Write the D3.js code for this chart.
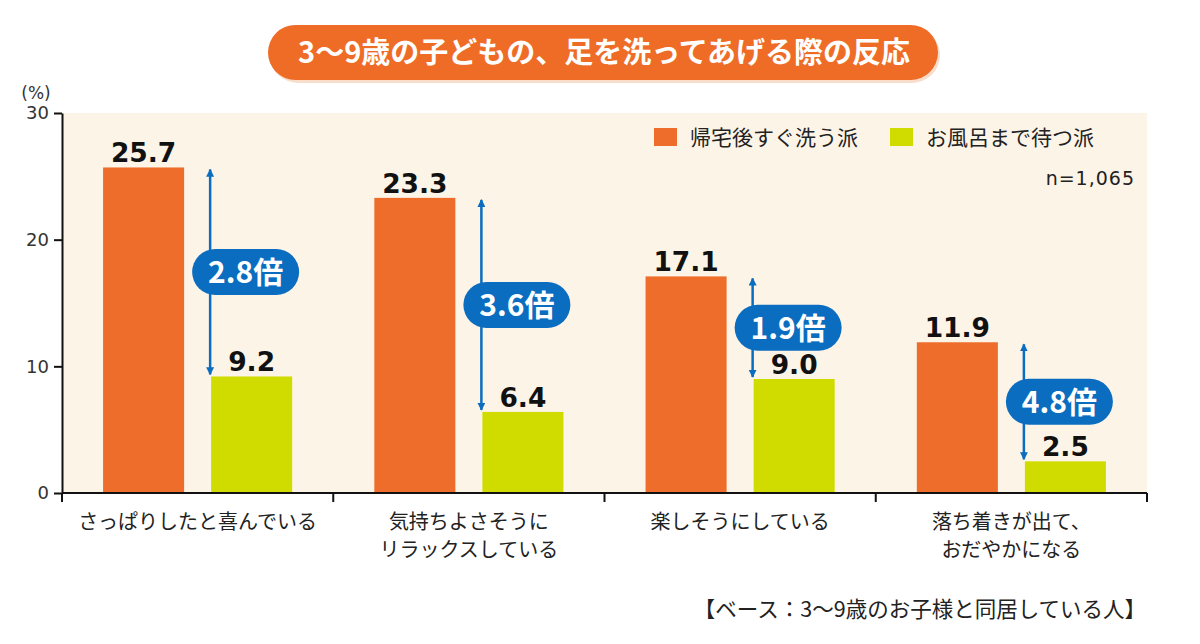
<!DOCTYPE html>
<html>
<head>
<meta charset="utf-8">
<script src="https://cdn.jsdelivr.net/npm/d3@7"></script>
<style>
  html, body { margin: 0; padding: 0; background: #fff; }
  svg { display: block; }
  .jp { font-family: "Noto Sans CJK JP", "Noto Sans", sans-serif; }
  .num { font-family: "DejaVu Sans", Verdana, sans-serif; }
</style>
</head>
<body>
<div id="chart"></div>
<script>
/* === 足を洗う際の反応 grouped bar chart (D3.js v7) === */

var categories = [
    ['さっぱりしたと喜んでいる'],
    ['気持ちよさそうに', 'リラックスしている'],
    ['楽しそうにしている'],
    ['落ち着きが出て、', 'おだやかになる']
];
var seriesNames = ['帰宅後すぐ洗う派', 'お風呂まで待つ派'];
var immediateValues = [25.7, 23.3, 17.1, 11.9];
var waitValues = [9.2, 6.4, 9.0, 2.5];
var ratioLabels = ['2.8倍', '3.6倍', '1.9倍', '4.8倍'];
var yTicks = [0, 10, 20, 30];

var COLORS = ['#ee6d2b', '#d0dc00'];
var BLUE = '#0a6dc0';

var width = 1200, height = 644;
var margin = { left: 62, right: 53, top: 113, bottom: 151 };

var svg = d3.select('#chart')
    .append('svg')
    .attr('width', width)
    .attr('height', height);

// Arrow markers
var defs = svg.append('defs');
defs.append('marker')
    .attr('id', 'arrow')
    .attr('viewBox', '0 -5 10 10')
    .attr('refX', 9)
    .attr('refY', 0)
    .attr('markerWidth', 3.2)
    .attr('markerHeight', 3.2)
    .attr('markerUnits', 'strokeWidth')
    .attr('orient', 'auto-start-reverse')
    .append('path')
    .attr('d', 'M0,-5L10,0L0,5Z')
    .attr('fill', BLUE);

var x0 = d3.scaleBand()
    .domain(d3.range(categories.length))
    .range([margin.left, width - margin.right])
    .padding(0);

var x1 = d3.scaleBand()
    .domain([0, 1])
    .range([0, x0.bandwidth()])
    .paddingInner(0.25)
    .paddingOuter(0.38);

var y = d3.scaleLinear()
    .domain([0, 30])
    .range([height - margin.bottom, margin.top]);

// Plot background
svg.append('rect')
    .attr('x', margin.left)
    .attr('y', y(30))
    .attr('width', width - margin.right - margin.left)
    .attr('height', y(0) - y(30))
    .attr('fill', '#fdf4e8');

// Title pill
var titleG = svg.append('g');
titleG.append('rect')
    .attr('x', 270).attr('y', 27)
    .attr('width', 670).attr('height', 56)
    .attr('rx', 28)
    .attr('fill', '#f5c7a8')
    .attr('opacity', 0.6);
titleG.append('rect')
    .attr('x', 268).attr('y', 25)
    .attr('width', 670).attr('height', 55)
    .attr('rx', 27.5)
    .attr('fill', '#ef6c27');
titleG.append('text')
    .attr('class', 'jp')
    .attr('x', 604).attr('y', 63)
    .attr('text-anchor', 'middle')
    .attr('fill', '#fff')
    .attr('font-size', 29)
    .attr('font-weight', 'bold')
    .text('3～9歳の子どもの、足を洗ってあげる際の反応');

// Bars
var rows = categories.map(function(c, i) {
    return { i: i, values: [immediateValues[i], waitValues[i]] };
});

var groups = svg.append('g').selectAll('g')
    .data(rows)
    .join('g')
    .attr('transform', function(d) { return 'translate(' + x0(d.i) + ',0)'; });

groups.selectAll('rect')
    .data(function(d) { return d.values.map(function(v, s) { return { s: s, v: v }; }); })
    .join('rect')
    .attr('x', function(d) { return x1(d.s); })
    .attr('y', function(d) { return y(d.v); })
    .attr('width', x1.bandwidth())
    .attr('height', function(d) { return y(0) - y(d.v); })
    .attr('fill', function(d) { return COLORS[d.s]; });

groups.selectAll('text.val')
    .data(function(d) { return d.values.map(function(v, s) { return { s: s, v: v }; }); })
    .join('text')
    .attr('class', 'val num')
    .attr('x', function(d) { return x1(d.s) + x1.bandwidth() / 2; })
    .attr('y', function(d) { return y(d.v) - 5; })
    .attr('text-anchor', 'middle')
    .attr('font-size', 26.5)
    .attr('font-weight', 'bold')
    .attr('fill', '#111')
    .text(function(d) { return d.v.toFixed(1); });

// Ratio arrows + badges
groups.each(function(d) {
    var g = d3.select(this);
    var ax = x1(1) - 1;
    var yTop = y(d.values[0]) + 2;
    var yBot = y(d.values[1]) - 2;
    g.append('line')
        .attr('x1', ax).attr('x2', ax)
        .attr('y1', yTop).attr('y2', yBot)
        .attr('stroke', BLUE)
        .attr('stroke-width', 2.5)
        .attr('marker-start', 'url(#arrow)')
        .attr('marker-end', 'url(#arrow)');
    var cy = (yTop + yBot) / 2;
    var bw = 107, bh = 46;
    g.append('rect')
        .attr('x', ax - 18).attr('y', cy - bh / 2)
        .attr('width', bw).attr('height', bh)
        .attr('rx', bh / 2)
        .attr('fill', BLUE);
    g.append('text')
        .attr('class', 'jp')
        .attr('x', ax - 18 + bw / 2).attr('y', cy + 11)
        .attr('text-anchor', 'middle')
        .attr('fill', '#fff')
        .attr('font-size', 30)
        .attr('font-weight', 'bold')
        .text(ratioLabels[d.i]);
});

// Y axis
var yAxis = svg.append('g')
    .attr('transform', 'translate(' + margin.left + ',0)')
    .call(d3.axisLeft(y).tickValues(yTicks).tickSize(8).tickPadding(5).tickSizeOuter(0));
yAxis.select('.domain').attr('stroke', '#111').attr('stroke-width', 2);
yAxis.selectAll('.tick line').attr('stroke', '#111').attr('stroke-width', 2);
yAxis.selectAll('.tick text')
    .attr('class', 'num')
    .attr('font-size', 18)
    .attr('fill', '#333');

svg.append('text')
    .attr('class', 'num')
    .attr('x', 36).attr('y', 99)
    .attr('text-anchor', 'middle')
    .attr('font-size', 17)
    .attr('fill', '#333')
    .text('(%)');

// X axis
var xAxis = svg.append('g')
    .attr('transform', 'translate(0,' + y(0) + ')');
xAxis.append('line')
    .attr('x1', margin.left).attr('x2', width - margin.right)
    .attr('stroke', '#111').attr('stroke-width', 2);
xAxis.selectAll('line.tick')
    .data(d3.range(categories.length + 1))
    .join('line')
    .attr('class', 'tick')
    .attr('x1', function(i) { return i === 0 ? margin.left : (i === categories.length ? width - margin.right : x0(i)); })
    .attr('x2', function(i) { return i === 0 ? margin.left : (i === categories.length ? width - margin.right : x0(i)); })
    .attr('y1', 0).attr('y2', 9)
    .attr('stroke', '#111').attr('stroke-width', 2);

xAxis.selectAll('text.cat')
    .data(categories)
    .join('text')
    .attr('class', 'cat jp')
    .attr('text-anchor', 'middle')
    .attr('font-size', 20)
    .attr('fill', '#222')
    .each(function(lines, i) {
        var t = d3.select(this);
        lines.forEach(function(line, k) {
            t.append('tspan')
                .attr('x', x0(i) + x0.bandwidth() / 2)
                .attr('y', 36 + k * 28)
                .text(line);
        });
    });

// Legend
var legend = svg.append('g');
var legendX = [654, 890];
seriesNames.forEach(function(name, s) {
    legend.append('rect')
        .attr('x', legendX[s]).attr('y', 128)
        .attr('width', 23).attr('height', 18)
        .attr('fill', COLORS[s]);
    legend.append('text')
        .attr('class', 'jp')
        .attr('x', legendX[s] + 36).attr('y', 145)
        .attr('font-size', 21)
        .attr('fill', '#222')
        .text(name);
});
svg.append('text')
    .attr('class', 'num')
    .attr('x', 1135).attr('y', 185)
    .attr('text-anchor', 'end')
    .attr('font-size', 19)
    .attr('letter-spacing', 1)
    .attr('fill', '#222')
    .text('n=1,065');

// Footer
svg.append('text')
    .attr('class', 'jp')
    .attr('x', 1146).attr('y', 617)
    .attr('text-anchor', 'end')
    .attr('font-size', 21.5)
    .attr('fill', '#222')
    .text('【ベース：3～9歳のお子様と同居している人】');
</script>
</body>
</html>
